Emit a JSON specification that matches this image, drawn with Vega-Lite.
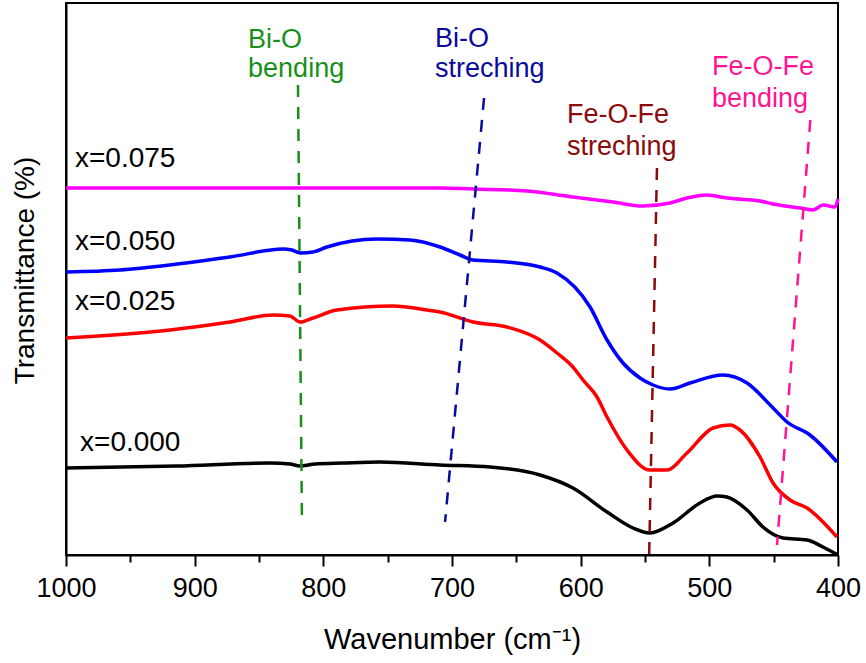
{
  "$schema": "https://vega.github.io/schema/vega-lite/v6.json",
  "width": 772,
  "height": 552,
  "autosize": {"type": "none"},
  "padding": {"left": 66, "top": 3, "right": 28, "bottom": 108},
  "background": "white",
  "config": {
    "font": "Liberation Sans",
    "view": {"stroke": "black", "strokeWidth": 2}
  },
  "datasets": {
    "curves": [
      {"s": "x=0.075", "wn": 1000, "t": 367},
      {"s": "x=0.075", "wn": 934.7, "t": 367},
      {"s": "x=0.075", "wn": 857, "t": 367},
      {"s": "x=0.075", "wn": 779.3, "t": 367},
      {"s": "x=0.075", "wn": 709.3, "t": 367},
      {"s": "x=0.075", "wn": 683.7, "t": 366},
      {"s": "x=0.075", "wn": 641.7, "t": 364},
      {"s": "x=0.075", "wn": 605.9, "t": 358},
      {"s": "x=0.075", "wn": 574.9, "t": 353},
      {"s": "x=0.075", "wn": 551.6, "t": 349},
      {"s": "x=0.075", "wn": 530.6, "t": 352},
      {"s": "x=0.075", "wn": 517.4, "t": 357},
      {"s": "x=0.075", "wn": 501.8, "t": 360},
      {"s": "x=0.075", "wn": 486.3, "t": 357},
      {"s": "x=0.075", "wn": 460.6, "t": 354},
      {"s": "x=0.075", "wn": 450.5, "t": 351},
      {"s": "x=0.075", "wn": 429.5, "t": 347},
      {"s": "x=0.075", "wn": 419.4, "t": 345},
      {"s": "x=0.075", "wn": 411.6, "t": 350},
      {"s": "x=0.075", "wn": 402.3, "t": 348},
      {"s": "x=0.075", "wn": 400, "t": 356},

      {"s": "x=0.050", "wn": 1000, "t": 283},
      {"s": "x=0.050", "wn": 958.0, "t": 285},
      {"s": "x=0.050", "wn": 919.2, "t": 290},
      {"s": "x=0.050", "wn": 872.5, "t": 298},
      {"s": "x=0.050", "wn": 831.3, "t": 306},
      {"s": "x=0.050", "wn": 824.4, "t": 305},
      {"s": "x=0.050", "wn": 818.1, "t": 302},
      {"s": "x=0.050", "wn": 808.0, "t": 303},
      {"s": "x=0.050", "wn": 797.2, "t": 308},
      {"s": "x=0.050", "wn": 758.3, "t": 316},
      {"s": "x=0.050", "wn": 732.6, "t": 315},
      {"s": "x=0.050", "wn": 709.3, "t": 308},
      {"s": "x=0.050", "wn": 693.8, "t": 300},
      {"s": "x=0.050", "wn": 683.7, "t": 295},
      {"s": "x=0.050", "wn": 657.3, "t": 293},
      {"s": "x=0.050", "wn": 631.6, "t": 288},
      {"s": "x=0.050", "wn": 618.4, "t": 282},
      {"s": "x=0.050", "wn": 592.7, "t": 248},
      {"s": "x=0.050", "wn": 579.5, "t": 215},
      {"s": "x=0.050", "wn": 567.1, "t": 192},
      {"s": "x=0.050", "wn": 553.9, "t": 177},
      {"s": "x=0.050", "wn": 543.8, "t": 170},
      {"s": "x=0.050", "wn": 530.6, "t": 166},
      {"s": "x=0.050", "wn": 515.0, "t": 172},
      {"s": "x=0.050", "wn": 489.4, "t": 180},
      {"s": "x=0.050", "wn": 470.7, "t": 172},
      {"s": "x=0.050", "wn": 450.5, "t": 147},
      {"s": "x=0.050", "wn": 439.6, "t": 133},
      {"s": "x=0.050", "wn": 421.8, "t": 120},
      {"s": "x=0.050", "wn": 400.8, "t": 93},

      {"s": "x=0.025", "wn": 1000, "t": 217},
      {"s": "x=0.025", "wn": 919.2, "t": 225},
      {"s": "x=0.025", "wn": 872.5, "t": 233},
      {"s": "x=0.025", "wn": 839.1, "t": 240},
      {"s": "x=0.025", "wn": 825.9, "t": 239},
      {"s": "x=0.025", "wn": 818.1, "t": 233},
      {"s": "x=0.025", "wn": 808.0, "t": 237},
      {"s": "x=0.025", "wn": 789.4, "t": 245},
      {"s": "x=0.025", "wn": 745.9, "t": 249},
      {"s": "x=0.025", "wn": 719.4, "t": 245},
      {"s": "x=0.025", "wn": 709.3, "t": 243},
      {"s": "x=0.025", "wn": 683.7, "t": 233},
      {"s": "x=0.025", "wn": 657.3, "t": 228},
      {"s": "x=0.025", "wn": 631.6, "t": 215},
      {"s": "x=0.025", "wn": 618.4, "t": 202},
      {"s": "x=0.025", "wn": 606.0, "t": 188},
      {"s": "x=0.025", "wn": 598.2, "t": 175},
      {"s": "x=0.025", "wn": 587.3, "t": 158},
      {"s": "x=0.025", "wn": 579.5, "t": 138},
      {"s": "x=0.025", "wn": 564.0, "t": 105},
      {"s": "x=0.025", "wn": 546.1, "t": 85},
      {"s": "x=0.025", "wn": 532.9, "t": 85},
      {"s": "x=0.025", "wn": 517.4, "t": 102},
      {"s": "x=0.025", "wn": 497.1, "t": 127},
      {"s": "x=0.025", "wn": 483.9, "t": 130},
      {"s": "x=0.025", "wn": 476.2, "t": 125},
      {"s": "x=0.025", "wn": 460.6, "t": 98},
      {"s": "x=0.025", "wn": 450.5, "t": 72},
      {"s": "x=0.025", "wn": 437.3, "t": 55},
      {"s": "x=0.025", "wn": 424.1, "t": 47},
      {"s": "x=0.025", "wn": 400.8, "t": 18},

      {"s": "x=0.000", "wn": 1000, "t": 87},
      {"s": "x=0.000", "wn": 913.7, "t": 89},
      {"s": "x=0.000", "wn": 841.5, "t": 92},
      {"s": "x=0.000", "wn": 825.9, "t": 91},
      {"s": "x=0.000", "wn": 818.1, "t": 89},
      {"s": "x=0.000", "wn": 806.5, "t": 91},
      {"s": "x=0.000", "wn": 784.7, "t": 92},
      {"s": "x=0.000", "wn": 756.0, "t": 93},
      {"s": "x=0.000", "wn": 709.3, "t": 90},
      {"s": "x=0.000", "wn": 670.5, "t": 88},
      {"s": "x=0.000", "wn": 631.6, "t": 80},
      {"s": "x=0.000", "wn": 606.0, "t": 67},
      {"s": "x=0.000", "wn": 579.5, "t": 43},
      {"s": "x=0.000", "wn": 559.3, "t": 27},
      {"s": "x=0.000", "wn": 546.1, "t": 22},
      {"s": "x=0.000", "wn": 528.2, "t": 32},
      {"s": "x=0.000", "wn": 507.3, "t": 52},
      {"s": "x=0.000", "wn": 494.0, "t": 59},
      {"s": "x=0.000", "wn": 486.3, "t": 58},
      {"s": "x=0.000", "wn": 470.7, "t": 45},
      {"s": "x=0.000", "wn": 458.3, "t": 28},
      {"s": "x=0.000", "wn": 442.7, "t": 17},
      {"s": "x=0.000", "wn": 424.1, "t": 15},
      {"s": "x=0.000", "wn": 411.7, "t": 8},
      {"s": "x=0.000", "wn": 400, "t": 0}
    ],
    "peaks": [
      {"p": "Bi-O bending", "wn": 819.7, "wn2": 816.6, "t": 470, "t2": 30},
      {"p": "Bi-O streching", "wn": 675.1, "wn2": 705.4, "t": 457, "t2": 33},
      {"p": "Fe-O-Fe streching", "wn": 540.7, "wn2": 546.9, "t": 387, "t2": -8},
      {"p": "Fe-O-Fe bending", "wn": 421.5, "wn2": 447.4, "t": 435, "t2": 10}
    ],
    "annot": [
      {"p": "Bi-O bending", "label": "Bi-O", "wn": 858.5, "t": 507},
      {"p": "Bi-O bending", "label": "bending", "wn": 858.5, "t": 478},
      {"p": "Bi-O streching", "label": "Bi-O", "wn": 713.2, "t": 508},
      {"p": "Bi-O streching", "label": "streching", "wn": 713.2, "t": 478},
      {"p": "Fe-O-Fe streching", "label": "Fe-O-Fe", "wn": 610.6, "t": 432},
      {"p": "Fe-O-Fe streching", "label": "streching", "wn": 610.6, "t": 400},
      {"p": "Fe-O-Fe bending", "label": "Fe-O-Fe", "wn": 497.9, "t": 480},
      {"p": "Fe-O-Fe bending", "label": "bending", "wn": 497.9, "t": 448}
    ],
    "slabels": [
      {"label": "x=0.075", "wn": 993.0, "t": 388},
      {"label": "x=0.050", "wn": 993.0, "t": 305},
      {"label": "x=0.025", "wn": 993.0, "t": 245},
      {"label": "x=0.000", "wn": 989.1, "t": 104}
    ]
  },
  "encoding": {
    "y": {
      "field": "t", "type": "quantitative",
      "scale": {"domain": [0, 552], "nice": false, "zero": false},
      "axis": {
        "grid": false, "labels": false, "ticks": false,
        "domainColor": "black", "domainWidth": 2,
        "title": "Transmittance (%)",
        "titleFontSize": 28, "titleFontWeight": "normal", "titleColor": "black",
        "titlePadding": 27, "titleY": 267
      }
    }
  },
  "resolve": {"axis": {"x": "independent"}},
  "layer": [
    {
      "data": {"name": "curves"},
      "mark": {"type": "line", "strokeWidth": 3.5, "interpolate": "monotone"},
      "encoding": {
        "x": {
          "field": "wn", "type": "quantitative",
          "scale": {"domain": [400, 1000], "reverse": true, "nice": false, "zero": false},
          "axis": {
            "orient": "bottom",
            "values": [1000, 900, 800, 700, 600, 500, 400],
            "format": "d",
            "grid": false,
            "title": "Wavenumber (cm⁻¹)",
            "titleFontSize": 29, "titleFontWeight": "normal", "titleColor": "black", "titlePadding": 24,
            "labelFontSize": 27, "labelColor": "black", "labelPadding": 9, "labelFlush": false, "labelOverlap": false,
            "tickSize": 11, "tickWidth": 2, "tickColor": "black",
            "domainColor": "black", "domainWidth": 2
          }
        },
        "color": {
          "field": "s", "type": "nominal", "legend": null,
          "scale": {
            "domain": ["x=0.075", "x=0.050", "x=0.025", "x=0.000", "Bi-O bending", "Bi-O streching", "Fe-O-Fe streching", "Fe-O-Fe bending"],
            "range": ["#ff00ff", "#0000ff", "#ff0000", "#000000", "#17901a", "#0a0a9c", "#8b0a0a", "#ff1493"]
          }
        }
      }
    },
    {
      "data": {"name": "peaks"},
      "mark": {"type": "rule", "strokeWidth": 2.5, "strokeDash": [12, 10]},
      "encoding": {
        "x": {"field": "wn", "type": "quantitative", "axis": null},
        "x2": {"field": "wn2"},
        "y2": {"field": "t2"},
        "color": {"field": "p", "type": "nominal", "legend": null}
      }
    },
    {
      "data": {"name": "annot"},
      "mark": {"type": "text", "align": "left", "baseline": "alphabetic", "fontSize": 27},
      "encoding": {
        "x": {"field": "wn", "type": "quantitative", "axis": null},
        "text": {"field": "label"},
        "color": {"field": "p", "type": "nominal", "legend": null}
      }
    },
    {
      "data": {"name": "slabels"},
      "mark": {"type": "text", "align": "left", "baseline": "alphabetic", "fontSize": 28, "color": "black"},
      "encoding": {
        "x": {
          "field": "wn", "type": "quantitative",
          "axis": {
            "orient": "bottom",
            "values": [950, 850, 750, 650, 550, 450],
            "labels": false, "title": null, "grid": false, "domain": false,
            "tickSize": 7, "tickWidth": 2, "tickColor": "black"
          }
        },
        "text": {"field": "label"}
      }
    }
  ]
}
